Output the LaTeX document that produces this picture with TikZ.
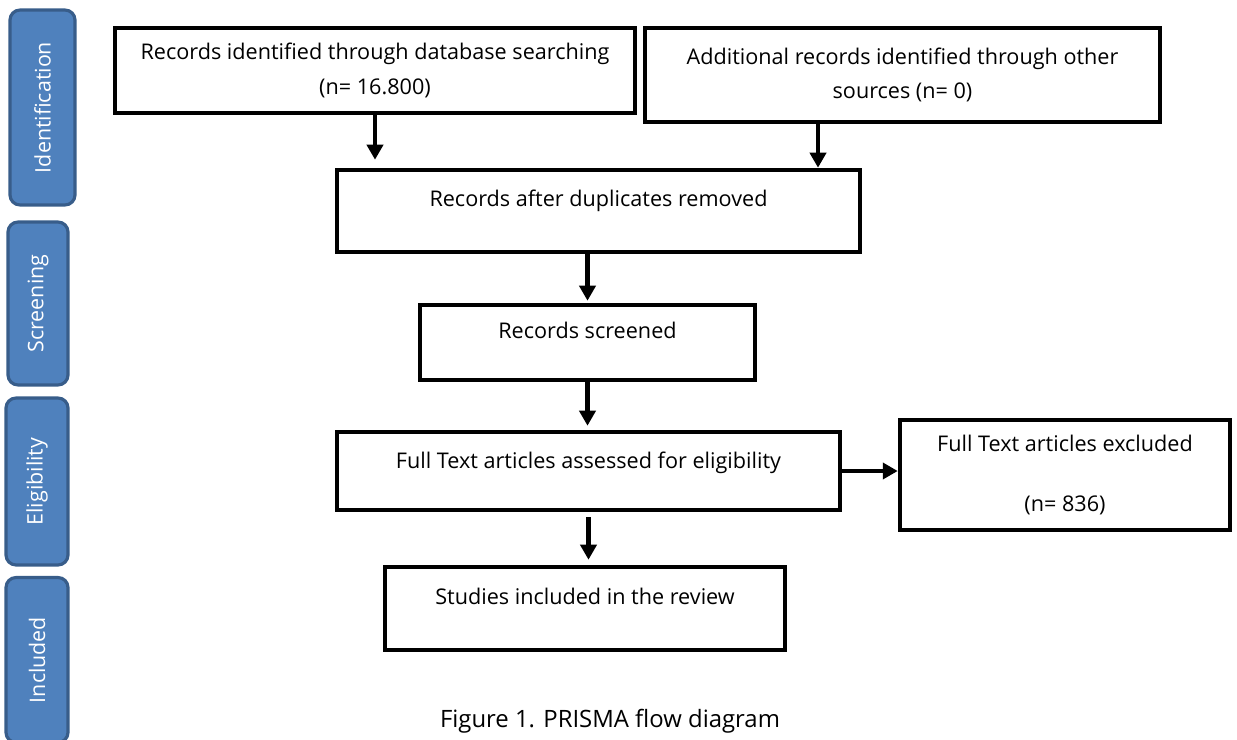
\documentclass[tikz,border=0pt]{standalone}
\usepackage{fontspec}
\setmainfont{Open Sans}
\usetikzlibrary{arrows.meta}
\definecolor{phasefill}{HTML}{4F81BD}
\definecolor{phaseline}{HTML}{385D8A}
\begin{document}
\begin{tikzpicture}[x=0.02cm,y=-0.02cm,
  box/.style={draw,line width=2.6pt,align=center,font=\fontsize{12.3}{19.8}\selectfont},
  phase/.style={draw=phaseline,fill=phasefill,line width=1.8pt,rounded corners=0.2cm,
    rotate=90,text=white,font=\fontsize{12.2}{14}\selectfont},
  arr/.style={line width=2.6pt,-{Triangle[length=0.3cm,width=0.32cm]}}]
\useasboundingbox (0,0) rectangle (1237,740);
% phases
\node[phase,minimum width=3.9cm,minimum height=1.3cm] (ident) at (42.5,107.5) {Identification};
\node[phase,minimum width=3.26cm,minimum height=1.2cm] (screen) at (38,303.5) {Screening};
\node[phase,minimum width=3.34cm,minimum height=1.24cm] (elig) at (37,481.5) {Eligibility};
\node[phase,minimum width=3.3cm,minimum height=1.24cm] (incl) at (37,660) {Included};
% boxes
\node[box,minimum width=10.4cm,minimum height=1.7cm] (db) at (375,70.5)
  {Records identified through database searching\\(n= 16.800)};
\node[box,minimum width=10.3cm,minimum height=1.88cm] (other) at (902.5,75)
  {Additional records identified through other\\sources (n= 0)};
\node[box,minimum width=10.46cm,minimum height=1.64cm,text depth=0.5cm] (dup) at (598.5,211)
  {Records after duplicates removed};
\node[box,minimum width=6.7cm,minimum height=1.5cm,text depth=0.5cm] (screened) at (587.5,342.5)
  {Records screened};
\node[box,minimum width=10.06cm,minimum height=1.56cm,text depth=0.45cm] (full) at (588.5,471)
  {Full Text articles assessed for eligibility};
\node[box,minimum width=6.6cm,minimum height=2.2cm] (excl) at (1065,475)
  {Full Text articles excluded\\[0.5cm](n= 836)};
\node[box,minimum width=8cm,minimum height=1.66cm,text depth=0.5cm] (review) at (585,608.5)
  {Studies included in the review};
\node (caption) at (610,721) {\fontsize{13.6}{16}\selectfont Figure 1. PRISMA flow diagram};
% arrows
\draw[arr,shorten >=0.16cm] (db.south) -- (db.south |- dup.north);
\draw[arr] ([xshift=-1.69cm]other.south) -- ([xshift=-1.69cm]other.south |- dup.north);
\draw[arr,shorten >=0.04cm] (screened.north |- dup.south) -- (screened.north);
\draw[arr,shorten >=0.08cm] (screened.south) -- (screened.south |- full.north);
\draw[arr] (full.east) -- (full.east -| excl.west);
\draw[arr,shorten <=0.1cm,shorten >=0.1cm] (full.south) -- (full.south |- review.north);
\end{tikzpicture}
\end{document}
